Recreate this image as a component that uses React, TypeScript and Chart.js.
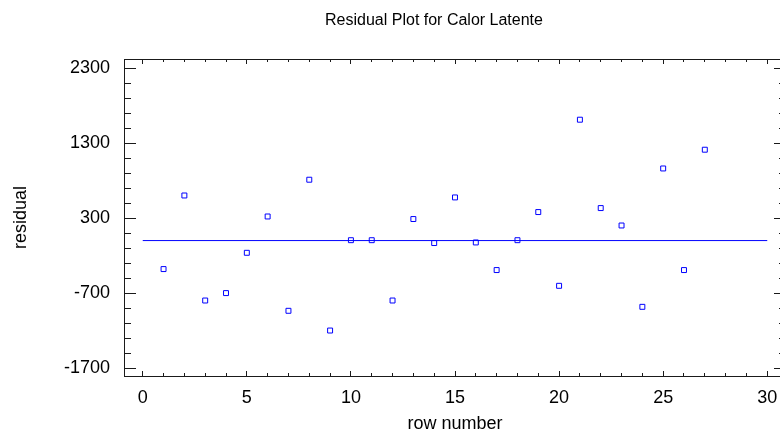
import React, { useEffect, useRef } from 'react';
import { Chart, registerables } from 'chart.js';

Chart.register(...registerables);

const chartTitle = 'Residual Plot for Calor Latente';
const xAxisTitle = 'row number';
const yAxisTitle = 'residual';

const rowNumbers = [1, 2, 3, 4, 5, 6, 7, 8, 9, 10, 11, 12, 13, 14, 15, 16, 17, 18, 19, 20, 21, 22, 23, 24, 25, 26, 27];
const residuals = [-380, 601, -799, -700, -163, 321, -936, 811, -1199, 5, 5, -799, 287, -33, 575, -25, -393, 5, 380, -603, 1611, 433, 201, -883, 961, -393, 1211];

const zeroLineX = [0, 30];
const zeroLineY = [0, 0];

const xMajorTicks = [0, 5, 10, 15, 20, 25, 30];
const xMinorTicks = [0, 1, 2, 3, 4, 5, 6, 7, 8, 9, 10, 11, 12, 13, 14, 15, 16, 17, 18, 19, 20, 21, 22, 23, 24, 25, 26, 27, 28, 29, 30];
const yMajorTicks = [-1700, -700, 300, 1300, 2300];
const yMinorTicks = [-1700, -1500, -1300, -1100, -900, -700, -500, -300, -100, 100, 300, 500, 700, 900, 1100, 1300, 1500, 1700, 1900, 2100, 2300];

const X_MIN = -0.9;
const X_MAX = 30.9;
const Y_MIN = -1805;
const Y_MAX = 2420;

const FONT = "'Liberation Sans', Arial, sans-serif";
const FRAME = '#1a1a1a';
const BLUE = '#0000ff';

const setTicks = (values: number[]) => (s: any) => {
  s.ticks = values.map((v) => ({ value: v }));
};

const plainLabel = (v: any) => String(v);

export default function App() {
  const ref = useRef<HTMLCanvasElement | null>(null);

  useEffect(() => {
    if (!ref.current) return;
    const points = rowNumbers.map((x, i) => ({ x, y: residuals[i] }));
    const line = zeroLineX.map((x, i) => ({ x, y: zeroLineY[i] }));

    const minorAxis = (position: string, weight: number, ticks: number[], min: number, max: number, len: number, horizontal: boolean) => ({
      type: 'linear',
      position,
      weight,
      min,
      max,
      afterBuildTicks: setTicks(ticks),
      afterFit: (s: any) => {
        if (horizontal) s.height = 0;
        else s.width = 0;
      },
      grid: { drawOnChartArea: false, tickLength: -len, tickColor: FRAME, tickWidth: 1 },
      border: { display: false },
      ticks: { display: false },
    });

    const chart = new Chart(ref.current, {
      type: 'scatter',
      data: {
        datasets: [
          {
            label: 'zero',
            data: line,
            showLine: true,
            borderColor: BLUE,
            borderWidth: 1,
            pointRadius: 0,
            xAxisID: 'x',
            yAxisID: 'y',
          },
          {
            label: 'residuals',
            data: points,
            pointStyle: 'rect',
            pointRadius: 3.5,
            borderColor: BLUE,
            backgroundColor: 'rgba(0,0,0,0)',
            borderWidth: 1,
            xAxisID: 'x',
            yAxisID: 'y',
          },
        ],
      },
      options: {
        animation: false,
        responsive: false,
        devicePixelRatio: 1,
        layout: { padding: 0 },
        plugins: {
          legend: { display: false },
          tooltip: { enabled: false },
          title: {
            display: true,
            text: chartTitle,
            color: '#000',
            font: { family: FONT, size: 16, weight: 'normal', lineHeight: 1.2 },
            padding: { top: 11, bottom: 28.8 },
          },
        },
        scales: {
          x: {
            type: 'linear',
            position: 'bottom',
            weight: 1,
            min: X_MIN,
            max: X_MAX,
            afterBuildTicks: setTicks(xMajorTicks),
            afterFit: (s: any) => {
              s.height = 61;
            },
            grid: { drawOnChartArea: false, tickLength: -5, tickColor: FRAME, tickWidth: 1 },
            border: { display: true, color: FRAME, width: 1 },
            ticks: { color: '#000', font: { family: FONT, size: 18 }, padding: 16, maxRotation: 0, callback: plainLabel },
            title: {
              display: true,
              text: xAxisTitle,
              color: '#000',
              font: { family: FONT, size: 18, lineHeight: 1.2 },
              padding: { top: 0, bottom: 2 },
            },
          },
          xMinor: minorAxis('bottom', 0, xMinorTicks, X_MIN, X_MAX, 3, true),
          xTop: {
            type: 'linear',
            position: 'top',
            weight: 1,
            min: X_MIN,
            max: X_MAX,
            afterBuildTicks: setTicks(xMajorTicks),
            afterFit: (s: any) => {
              s.height = 0;
            },
            grid: { drawOnChartArea: false, tickLength: -5, tickColor: FRAME, tickWidth: 1 },
            border: { display: true, color: FRAME, width: 1 },
            ticks: { display: false },
          },
          xTopMinor: minorAxis('top', 0, xMinorTicks, X_MIN, X_MAX, 3, true),
          y: {
            type: 'linear',
            position: 'left',
            weight: 1,
            min: Y_MIN,
            max: Y_MAX,
            afterBuildTicks: setTicks(yMajorTicks),
            afterFit: (s: any) => {
              s.width = 124;
            },
            grid: { drawOnChartArea: false, tickLength: -12, tickColor: FRAME, tickWidth: 1 },
            border: { display: true, color: FRAME, width: 1 },
            ticks: { color: '#000', font: { family: FONT, size: 18 }, padding: 26, callback: plainLabel },
            title: {
              display: true,
              text: yAxisTitle,
              color: '#000',
              font: { family: FONT, size: 18, lineHeight: 1.2 },
              padding: { top: 10, bottom: 0 },
            },
          },
          yMinor: minorAxis('left', 0, yMinorTicks, Y_MIN, Y_MAX, 7, false),
          yRight: {
            type: 'linear',
            position: 'right',
            weight: 1,
            min: Y_MIN,
            max: Y_MAX,
            afterBuildTicks: setTicks(yMajorTicks),
            afterFit: (s: any) => {
              s.width = 82;
            },
            grid: { drawOnChartArea: false, tickLength: -12, tickColor: FRAME, tickWidth: 1 },
            border: { display: true, color: FRAME, width: 1 },
            ticks: { display: false },
          },
          yRightMinor: minorAxis('right', 0, yMinorTicks, Y_MIN, Y_MAX, 7, false),
        },
      } as any,
    });

    return () => chart.destroy();
  }, []);

  return (
    <div
      style={{
        position: 'fixed',
        left: 0,
        top: 0,
        width: 780,
        height: 437,
        overflow: 'hidden',
        background: '#fff',
      }}
    >
      <canvas ref={ref} width={868} height={437} style={{ display: 'block', width: 868, height: 437 }} />
    </div>
  );
}
